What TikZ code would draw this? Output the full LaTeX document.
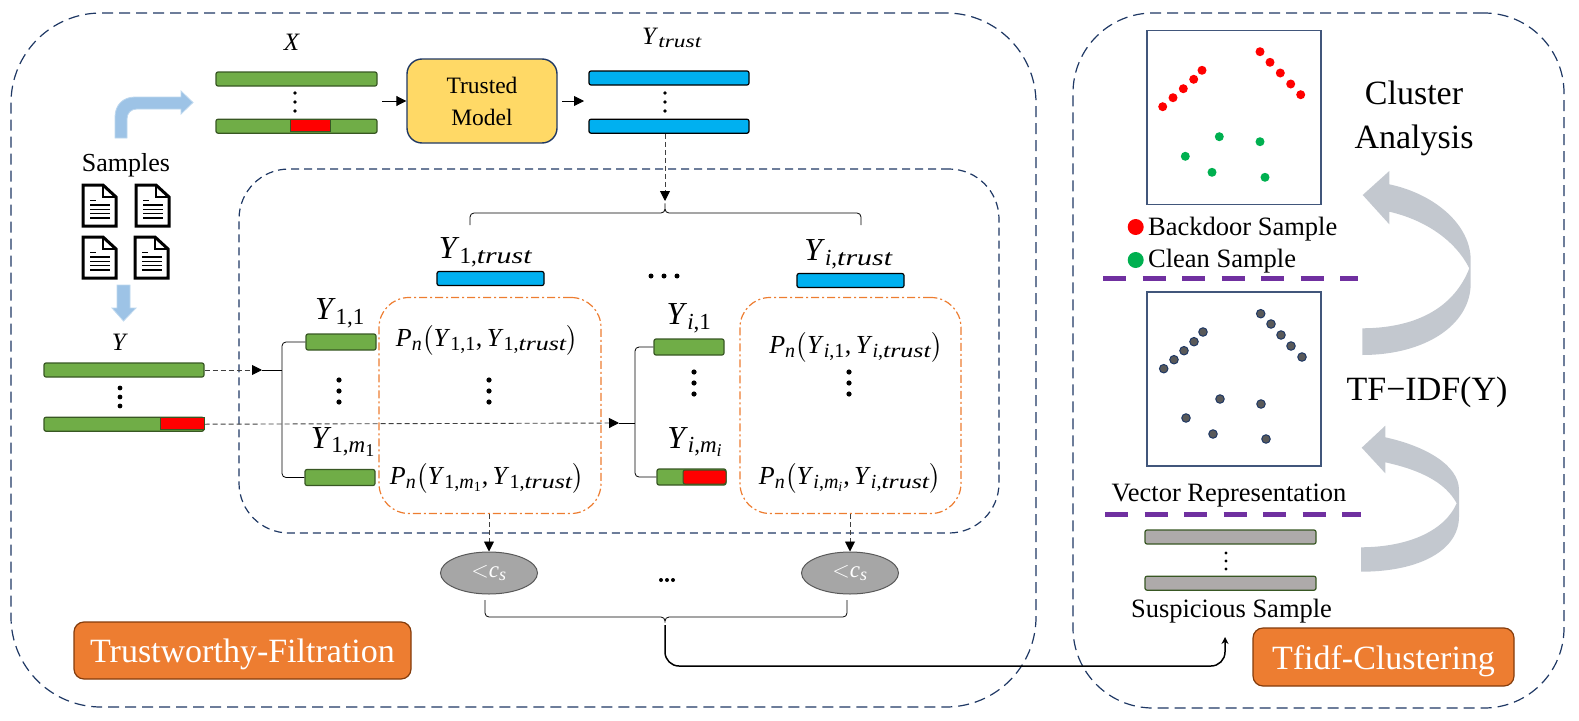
\documentclass[tikz,border=0pt]{standalone}
\usepackage{fix-cm}
\usepackage{amsmath}
\usepackage{fontspec}
\setmainfont{Liberation Serif}
\newfontfamily\labelfont[FakeStretch=1.3]{Liberation Serif}
\DeclareMathSizes{32}{32}{23}{17}
\DeclareMathSizes{26}{26}{20}{15}
\DeclareMathSizes{25}{25}{18}{13}
\DeclareMathSizes{23}{23}{18}{13}
\usetikzlibrary{positioning,arrows.meta,shapes.geometric,calc}
\definecolor{navy}{HTML}{1F3864}
\definecolor{barblue}{HTML}{00B0F0}
\definecolor{bargreen}{HTML}{70AD47}
\definecolor{bargreenedge}{HTML}{385723}
\definecolor{lightblue}{HTML}{9DC3E6}
\definecolor{lightblueedge}{HTML}{BDD7EE}
\definecolor{orangefill}{HTML}{ED7D31}
\definecolor{orangeedge}{HTML}{843C0C}
\definecolor{modelfill}{HTML}{FFD966}
\definecolor{purpleline}{HTML}{7030A0}
\definecolor{sweep}{HTML}{C3C8CF}
\definecolor{greybar}{HTML}{AEAAAA}
\definecolor{ovalgrey}{HTML}{A6A6A6}
\definecolor{cleangreen}{HTML}{00B050}
\definecolor{dotgrey}{HTML}{595959}
\newcommand{\vdotsmark}[4]{\foreach \dotk in {-1,0,1} \fill ({#1},{#2+\dotk*#3}) circle (#4);}
\newcommand{\hdotsmark}[4]{\foreach \dotk in {-1,0,1} \fill ({#1+\dotk*#3},{#2}) circle (#4);}
\newcommand{\lit}[1]{\textit{#1}}
\newcommand{\trustword}{{\labelfont\itshape trust}}
\newcommand{\ysub}[2]{\lit{#1}\textsubscript{#2}}
\newcommand{\pterm}[2]{\ysub{P}{\lit{n}}$\bigl($\ysub{Y}{#1},\,\ysub{Y}{#2}$\bigr)$}
\begin{document}
\begin{tikzpicture}[
x=1pt,y=-1pt,
>={Stealth[length=10pt,width=10pt,inset=0pt]},
panel/.style={draw=navy,line width=1.2pt,dash pattern=on 11pt off 6pt,minimum width=#1,inner sep=0pt},
greenbar/.style={draw=bargreenedge,fill=bargreen,line width=1.2pt,rounded corners=2pt,minimum width=#1,minimum height=14pt,inner sep=0pt},
bluebar/.style={draw=black,fill=barblue,line width=1.2pt,rounded corners=2pt,minimum width=#1,minimum height=14pt,inner sep=0pt},
redpart/.style={draw=bargreenedge,fill=red,line width=1pt,minimum width=#1,minimum height=12pt,inner sep=0pt},
greypart/.style={draw=bargreenedge,fill=greybar,line width=1.2pt,rounded corners=2pt,minimum width=171pt,minimum height=14pt,inner sep=0pt},
orangebox/.style={draw=orangefill,line width=1.2pt,dash pattern=on 8pt off 3pt on 2pt off 3pt,rounded corners=30pt,minimum width=#1,minimum height=216pt,inner sep=0pt},
tagbox/.style={draw=orangeedge,fill=orangefill,line width=1.2pt,rounded corners=10pt,text=white,font=\fontsize{34}{38}\selectfont,inner sep=0pt},
oval/.style={ellipse,draw=dotgrey,fill=ovalgrey,line width=1pt,minimum width=97pt,minimum height=42pt,inner sep=0pt,text=white,font=\fontsize{23}{26}\selectfont},
plot/.style={draw=navy!85!white,line width=1.5pt,minimum width=174pt,minimum height=174pt,inner sep=0pt},
caption/.style={inner sep=0pt,font=\fontsize{#1}{#1}\selectfont,align=center},
caption/.default=26,
ylabel/.style={inner sep=0pt,font=\fontsize{#1}{#1}\selectfont},
ylabel/.default=32,
reddot/.style={circle,fill=red,minimum size=9pt,inner sep=0pt},
greendot/.style={circle,fill=cleangreen,minimum size=9pt,inner sep=0pt},
greydot/.style={circle,draw=navy,fill=dotgrey,line width=1pt,minimum size=8.5pt,inner sep=0pt},
bracket/.style={black,line width=.8pt,rounded corners=4pt},
dashlink/.style={dash pattern=on 5pt off 3pt,draw=black!75,line width=.9pt,-{Stealth[length=10pt,width=10pt,inset=0pt,black]}},
sweeparrow/.style={fill=sweep,draw=none},
blockarrow/.style={fill=lightblue,draw=lightblueedge,line width=.8pt},
cutline/.style={draw=purpleline,line width=5pt,dash pattern=on 23pt off 16.5pt}]
\useasboundingbox (0,0) rectangle (1579,720);

\node (filterpanel) [panel=1025pt,minimum height=694pt,rounded corners=90pt] at (523.5,360) {};
\node (clusterpanel) [panel=491pt,minimum height=695pt,rounded corners=80pt] at (1318.5,360.5) {};
\node (innerpanel) [panel=760pt,minimum height=364pt,rounded corners=50pt,dash pattern=on 8pt off 5pt] at (619,351) {};

\node (xlabel) [ylabel=25] at (292,42) {\lit{X}};
\node (xtop) [greenbar=161pt] at (296.5,79) {};
\node (xbot) [greenbar=161pt,below=32pt of xtop] {};
\node (xred) [redpart=40pt] at (310,125) {};
\vdotsmark{295}{102}{9}{1.8}
\node (model) [draw=navy,fill=modelfill,line width=1.4pt,rounded corners=15pt,minimum width=150pt,minimum height=84pt,align=center,font=\fontsize{23.5}{32}\selectfont,inner sep=0pt] at (482,101) {Trusted\\Model};
\node (ytlabel) [ylabel=25] at (672,38) {\ysub{Y}{\trustword}};
\node (yttop) [bluebar=160pt] at (669,78) {};
\node (ytbot) [bluebar=160pt,below=33pt of yttop] {};
\vdotsmark{665}{102}{9}{1.8}
\coordinate (xout) at (382,101);
\coordinate (ytin) at (584,101);
\coordinate (modelout) at (562,101);
\draw[->,line width=.9pt] (xout)--(model.west);
\draw[->,line width=.9pt] (modelout)--(ytin);

\draw[blockarrow] (115,138)--(115,117) .. controls (115,105) and (123,97) .. (135,97)--(181,97)--(181,91)--(193,102.5)--(181,114)--(181,109)--(137,109) .. controls (131,109) and (127,113) .. (127,119)--(127,138)--cycle;
\node (samples) [caption=26] at (126,165) {Samples};
\foreach \docx/\docy in {83/185,136/185,83/237,135/237} {
\begin{scope}[shift={(\docx,\docy)}]
\draw[line width=3pt,line join=miter,fill=white] (0,0)--(20,0)--(33,12)--(33,41)--(0,41)--cycle;
\draw[line width=1.5pt] (20,0)--(20,12)--(33,12);
\draw[line width=1.5pt] (7,15.5)--(13,15.5);
\foreach \rowy in {20,24.3,28.6,33} \draw[line width=1.5pt] (7,\rowy)--(27,\rowy);
\end{scope}
}
\draw[blockarrow] (117,285)--(130,285)--(130,308)--(136,308)--(123.5,321)--(112,308)--(117,308)--cycle;
\node (ylabelmain) [ylabel=25] at (120,342) {\lit{Y}};
\node (ytop) [greenbar=160pt] at (124,370) {};
\node (ybot) [greenbar=160pt,below=39pt of ytop] {};
\node (yred) [redpart=44pt] at (182,423) {};
\vdotsmark{120}{397}{9}{2.4}

\coordinate (toptip) at (665,201);
\coordinate (topmid) at (665,213);
\coordinate (topleft) at (470,225);
\coordinate (topright) at (861,225);
\draw[dashlink] (ytbot.south-|toptip)--(toptip);
\draw[bracket] (topleft) |- (topmid)--(toptip)--(topmid) -| (topright);

\node (trust1) [bluebar=107pt] at (490.5,278.5) {};
\node (trustlabel1) [ylabel=32,above=4pt of trust1,xshift=-5pt] {\ysub{Y}{1,\trustword}};
\node (trusti) [bluebar=107pt] at (850.5,280.5) {};
\node (trustlabeli) [ylabel=32,above=4pt of trusti,xshift=-2pt] {\ysub{Y}{\lit{i},\trustword}};
\hdotsmark{664}{276}{13}{2.5}

\node (group1) [orangebox=222pt] at (490,405.5) {};
\node (groupi) [orangebox=221pt] at (850.5,405.5) {};

\node (y11) [greenbar=70pt,minimum height=16pt] at (341,342) {};
\node (y1m) [greenbar=70pt,minimum height=16pt] at (340,477.5) {};
\node (y11label) [ylabel] at (340,313) {\ysub{Y}{1,1}};
\node (y1mlabel) [ylabel] at (343,442) {\ysub{Y}{1,\ysub{m}{1}}};
\vdotsmark{339}{391}{11}{2.6}
\node (yi1) [greenbar=70pt,minimum height=16pt] at (689,347) {};
\node (yim) [greenbar=69pt,minimum height=16pt] at (691.5,477) {};
\node (yimred) [draw=bargreenedge,fill=red,rounded corners=2pt,line width=1pt,minimum width=43pt,minimum height=14pt,inner sep=0pt] at (704.5,477) {};
\node (yi1label) [ylabel] at (689,318) {\ysub{Y}{\lit{i},1}};
\node (yimlabel) [ylabel] at (695,442) {\ysub{Y}{\lit{i},\ysub{m}{\lit{i}}}};
\vdotsmark{694}{383}{11}{2.6}

\node (p11) [ylabel=26] at (487,340) {\pterm{1,1}{1,\trustword}};
\vdotsmark{489}{391}{11}{2.6}
\node (p1m) [ylabel=26] at (487,478) {\pterm{1,\ysub{m}{1}}{1,\trustword}};
\node (pi1) [ylabel=26] at (856,347) {\pterm{\lit{i},1}{\lit{i},\trustword}};
\vdotsmark{849}{383}{11}{2.6}
\node (pim) [ylabel=26] at (850,478) {\pterm{\lit{i},\ysub{m}{\lit{i}}}{\lit{i},\trustword}};

\coordinate (brace1tip) at (262,370);
\coordinate (brace1mid) at (282,370);
\coordinate (braceitip) at (619,423);
\coordinate (braceimid) at (635,423);
\draw[dashlink] (ytop.east)--(brace1tip);
\draw[bracket] (brace1tip)--(brace1mid);
\draw[bracket] (y11.west) -| (brace1mid) |- (y1m.west);
\draw[dashlink] (ybot.east)--(braceitip);
\draw[bracket] (braceitip)--(braceimid);
\draw[bracket] (yi1.west) -| (braceimid) |- (yim.west);

\node (oval1) [oval] at (489,573) {$<$\ysub{c}{\lit{s}}};
\node (ovali) [oval] at (850,573) {$<$\ysub{c}{\lit{s}}};
\hdotsmark{667}{580}{6}{2}
\draw[dashlink] (group1.south-|oval1)--(oval1.north);
\draw[dashlink] (groupi.south-|ovali)--(ovali.north);
\coordinate (lowleft) at (485,600);
\coordinate (lowright) at (847,600);
\coordinate (lowmid) at (665,617);
\coordinate (lowtip) at (665,625);
\coordinate (suspin) at (1225,637);
\draw[bracket] (lowleft) |- (lowmid)--(lowtip)--(lowmid) -| (lowright);
\draw[-{Stealth[length=7pt,width=7pt]},line width=1.5pt,rounded corners=14pt] (lowtip) |- (1225,666)--(suspin);

\node (tagfilter) [tagbox,minimum width=337pt,minimum height=57pt] at (242.5,650.5) {\raisebox{-4pt}[\height][\depth]{Trustworthy-Filtration}};
\node (tagcluster) [tagbox,minimum width=261pt,minimum height=58pt] at (1383.5,657) {\raisebox{-4pt}[\height][\depth]{Tfidf-Clustering}};

\node (plottop) [plot] at (1234,117.5) {};
\node (plotbot) [plot] at (1234,379) {};
\foreach \dotx/\doty [count=\dotn] in {1162.7/106.7,1173/97.7,1183.3/88.7,1193.7/79.3,1202/70.3,1260/51.7,1270/62.3,1280.3/73,1290.7/84,1300.7/94.7} \node (red\dotn) [reddot] at (\dotx,\doty) {};
\foreach \dotx/\doty [count=\dotn] in {1219.3/136.7,1260/141.7,1185.3/156.3,1212/172.3,1265/177.3} \node (clean\dotn) [greendot] at (\dotx,\doty) {};
\foreach \dotx/\doty [count=\dotn] in {1163.7/368.7,1174/359.7,1184/350.7,1194/341.7,1203/332,1260.7/313.7,1271/324,1281/335,1291/346,1302/357,1220/399,1261/404,1186/418,1213/434,1266/439} \node (vec\dotn) [greydot] at (\dotx,\doty) {};

\node (legendred) [reddot,minimum size=16pt] at (1135.7,227) {};
\node (legendgreen) [greendot,minimum size=16pt] at (1135.7,260) {};
\node (backdoor) [caption=26.5,right=4pt of legendred,yshift=-2pt] {Backdoor Sample};
\node (clean) [caption=26.5,right=4pt of legendgreen,yshift=-1pt] {Clean Sample};
\coordinate (cutoneL) at (1103,278);
\coordinate (cutoneR) at (1358,278);
\draw[cutline] (cutoneL)--(cutoneR);
\coordinate (cuttwoL) at (1105,514);
\coordinate (cuttwoR) at (1361,514);
\draw[cutline] (cuttwoL)--(cuttwoR);
\node (vector) [caption=26.5] at (1229,496) {Vector Representation};
\node (susp1) [greypart] at (1230.5,537) {};
\node (susp2) [greypart,below=31pt of susp1] {};
\vdotsmark{1226}{561}{8}{1.6}
\node (suspect) [caption=26.5] at (1231.5,611) {Suspicious Sample};

\node (clusterlabel) [caption=34,text width=200pt] at (1414,118) {Cluster\\[10pt]Analysis};
\node (tfidflabel) [caption=34] at (1427,392) {TF\textminus IDF(Y)};

\draw[sweeparrow] (1362.7,195)--(1389.3,171)--(1389.3,184.3) .. controls (1435,194) and (1470.7,225) .. (1470.7,260)--(1470.7,283.3) .. controls (1470.7,325) and (1425,355) .. (1362.3,355)--(1362.3,328.3) .. controls (1420,328) and (1455,305) .. (1469.3,268.3) .. controls (1455,240) and (1425,220) .. (1389.3,211.7)--(1389.3,224.3)--cycle;
\draw[sweeparrow] (1361.7,447.7)--(1385.3,425.7)--(1385.3,437.3) .. controls (1425,446) and (1459,465) .. (1459,490)--(1459,516.7) .. controls (1459,550) and (1420,571.7) .. (1361,571.7)--(1361,547.3) .. controls (1410,547) and (1445,530) .. (1456.7,503.3) .. controls (1445,482) and (1420,470) .. (1385.3,462.3)--(1385.3,473.3)--cycle;
\end{tikzpicture}
\end{document}
